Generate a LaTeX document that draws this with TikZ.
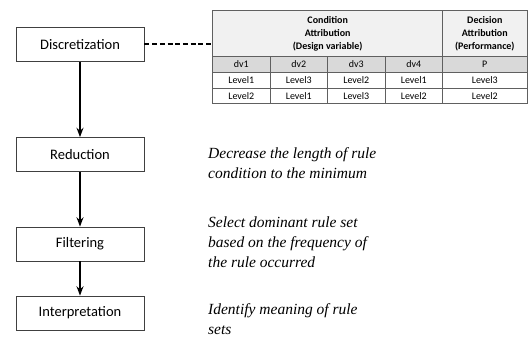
\documentclass[tikz,border=0pt]{standalone}
\usepackage{fontspec}
\setmainfont{Liberation Serif}
\newfontfamily\calib{Carlito}
\usepackage{xcolor}
\usepackage{tikz}
\usetikzlibrary{arrows.meta,positioning}

\definecolor{headgray}{HTML}{F1F1F1}
\definecolor{subgray}{HTML}{D9D9D9}
\definecolor{rulegray}{HTML}{606060}

\tikzset{
stage/.style={draw=black!75,line width=0.8pt,minimum width=128pt,minimum height=34pt,
  inner sep=0pt,font=\calib\fontsize{14.5}{16}\selectfont},
note/.style={anchor=north west,align=left,inner sep=0pt,
  font=\itshape\fontsize{15.5}{20}\selectfont},
cell/.style={font=\calib\fontsize{10}{12}\selectfont},
headcell/.style={align=center,font=\calib\bfseries\fontsize{10}{13}\selectfont}
}

\begin{document}
\begin{tikzpicture}[x=1pt,y=-1pt,>=Stealth]
\useasboundingbox (0,0) rectangle (528,338);
% stages
\node[stage] (disc) at (80,44.5) {Discretization};
\node[stage] (red) at (80,154.5) {Reduction};
\node[stage] (filt) at (80,244) {Filtering};
\node[stage] (interp) at (80,313) {Interpretation};
\draw[->,line width=1.4pt] (disc)--(red);
\draw[->,line width=1.4pt] (red)--(filt);
\draw[->,line width=1.4pt] (filt)--(interp);
% table
\fill[headgray](212.7,10) rectangle (527,56.5);
\fill[subgray](212.7,56.5) rectangle (527,72);
\draw[rulegray,line width=0.7pt](212.7,10) rectangle (527,103.5);
\draw[rulegray,line width=0.7pt](212.7,56.5)--(527,56.5)
(212.7,72)--(527,72)
(212.7,88)--(527,88)
(442.7,10)--(442.7,103.5);
\foreach \x in {270,327.7,385}
  \draw[rulegray,line width=0.7pt](\x,56.5)--(\x,103.5);
\coordinate (tab) at (212.7,44.3);
\draw[line width=1.8pt,dash pattern=on 5pt off 2.7pt](disc.east |- tab)--(tab);
\node[headcell] (cond) at (327.7,34) {Condition\\Attribution\\(Design variable)};
\node[headcell] (deci) at (484.8,34) {Decision\\Attribution\\(Performance)};
\foreach \x/\a/\b/\c in {241.3/dv1/Level1/Level2,298.8/dv2/Level3/Level1,
  356.3/dv3/Level2/Level3,413.8/dv4/Level1/Level2,484.8/P/Level3/Level2}{
  \node[cell] at (\x,64.5) {\a};
  \node[cell] at (\x,80.2) {\b};
  \node[cell] at (\x,95.8) {\c};
}
% notes
\node[note] (n1) at (208,147.5) {Decrease the length of rule\\condition to the minimum};
\node[note] (n2) at (208,216.5) {Select dominant rule set\\based on the frequency of\\the rule occurred};
\node[note] (n3) at (208,303.5) {Identify meaning of rule\\sets};
\end{tikzpicture}
\end{document}
